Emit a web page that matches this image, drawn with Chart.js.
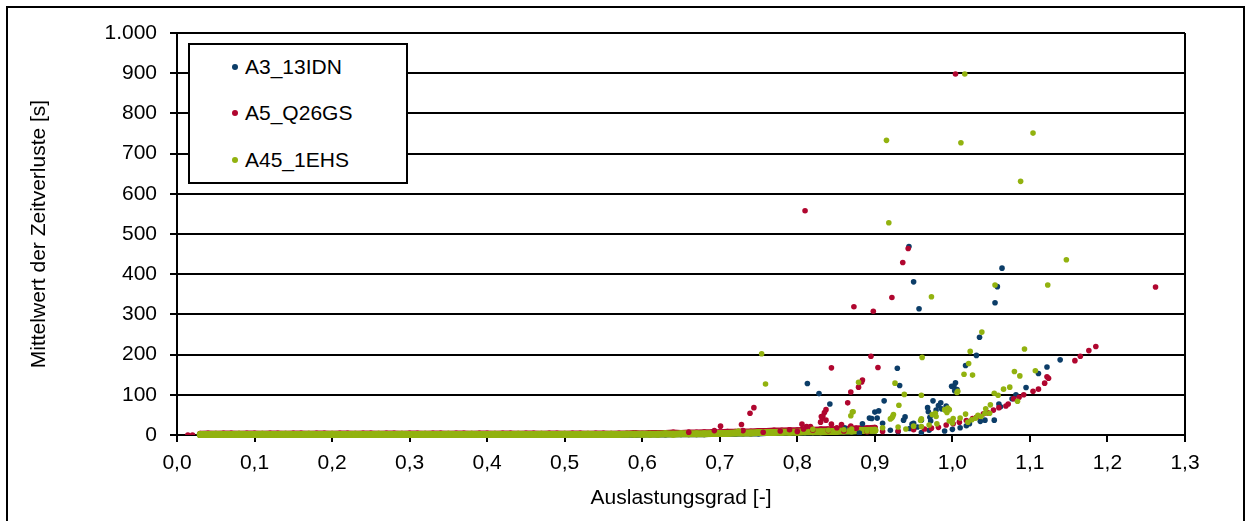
<!DOCTYPE html>
<html>
<head>
<meta charset="utf-8">
<script src="https://cdn.jsdelivr.net/npm/chart.js@4.4.1/dist/chart.umd.min.js"></script>
<style>
  html, body { margin: 0; padding: 0; background: #fff; }
  body { width: 1247px; height: 521px; position: relative; overflow: hidden; }
  #frame {
    position: absolute; left: 6px; top: 6px; width: 1239px; height: 530px;
    border: 2px solid #000; box-sizing: border-box; pointer-events: none;
  }
  #wrap { position: absolute; left: 0; top: 0; width: 1247px; height: 521px; }
  #legend {
    position: absolute; left: 188px; top: 43px; width: 220px; height: 141px;
    border: 2px solid #000; box-sizing: border-box; background: #fff;
    font-family: 'Liberation Sans', Arial, sans-serif; font-size: 21px; color: #000;
  }
  .item { position: absolute; left: 0; height: 24px; line-height: 24px; white-space: nowrap; }
  .dot { position: absolute; left: 42px; top: 9px; width: 6px; height: 6px; border-radius: 50%; }
  .lbl { position: absolute; left: 55px; top: 0; }
</style>
</head>
<body>
<div id="wrap"><canvas id="chart" width="1247" height="521"></canvas></div>
<div id="frame"></div>
<div id="legend"></div>
<script>
// ===== SERIES =====
const SERIES_NAMES = ['A3_13IDN', 'A5_Q26GS', 'A45_1EHS'];
const COLORS = ['#0c3d68', '#b0062f', '#92b20f'];

// dense low-delay strip, shared x positions
const baseX = [
  0.03, 0.04, 0.05, 0.06, 0.07, 0.08, 0.09,
  0.10, 0.11, 0.12, 0.13, 0.14, 0.15, 0.16, 0.17, 0.18, 0.19,
  0.20, 0.21, 0.22, 0.23, 0.24, 0.25, 0.26, 0.27, 0.28, 0.29,
  0.30, 0.31, 0.32, 0.33, 0.34, 0.35, 0.36, 0.37, 0.38, 0.39,
  0.40, 0.41, 0.42, 0.43, 0.44, 0.45, 0.46, 0.47, 0.48, 0.49,
  0.50, 0.51, 0.52, 0.53, 0.54, 0.55, 0.56, 0.57, 0.58, 0.59,
  0.60, 0.61, 0.62, 0.63, 0.64, 0.65, 0.66, 0.67, 0.68, 0.69,
  0.70, 0.71, 0.72, 0.73, 0.74, 0.75, 0.76, 0.77, 0.78, 0.79,
  0.80, 0.81, 0.82, 0.83, 0.84, 0.85, 0.86, 0.87, 0.88, 0.89,
  0.90
];
const a3BaseY = [
  0, 1, 0, 1, 0, 1, 0,
  1, 0, 1, 0, 1, 0, 1, 0, 1, 0,
  1, 0, 1, 0, 1, 0, 1, 0, 1, 0,
  1, 0, 1, 0, 1, 0, 1, 0, 1, 0,
  1, 0, 1, 0, 1, 0, 1, 0, 1, 0,
  1, 0, 1, 0, 1, 0, 1, 0, 1, 0,
  1, 1, 1, 1, 2, 2, 2, 2, 2, 3,
  3, 3, 3, 4, 4, 4, 5, 5, 5, 6,
  6, 6, 7, 7, 8, 8, 9, 9, 10, 10,
  11
];
const a5BaseY = [
  3, 4, 3, 4, 4, 3, 4,
  4, 3, 4, 4, 3, 4, 4, 3, 4, 4,
  3, 4, 4, 3, 4, 4, 3, 4, 4, 3,
  4, 4, 3, 4, 4, 3, 4, 4, 3, 4,
  4, 3, 4, 4, 3, 4, 4, 3, 4, 4,
  3, 4, 4, 3, 4, 4, 3, 4, 4, 5,
  4, 5, 5, 5, 6, 5, 6, 6, 7, 7,
  7, 8, 8, 9, 9, 10, 10, 11, 11, 12,
  12, 13, 13, 14, 14, 15, 15, 16, 16, 17,
  18
];
const a45BaseY = [
  1, 1, 2, 1, 1, 2, 1,
  1, 2, 1, 1, 2, 1, 1, 2, 1, 1,
  2, 1, 1, 2, 1, 1, 2, 1, 1, 2,
  1, 1, 2, 1, 1, 2, 1, 1, 2, 1,
  1, 2, 1, 1, 2, 1, 1, 2, 1, 1,
  2, 1, 1, 2, 1, 1, 2, 1, 2, 2,
  2, 2, 2, 3, 2, 3, 3, 3, 3, 4,
  4, 4, 5, 5, 5, 6, 6, 6, 7, 7,
  7, 8, 8, 8, 9, 9, 10, 10, 11, 11,
  12
];

// scattered points [Auslastungsgrad, Zeitverlust]
const a3Points = [
  [0.944, 469], [1.064, 415], [0.950, 381], [1.058, 369], [1.055, 329], [0.957, 314],
  [1.035, 243], [1.031, 198], [0.929, 166], [1.017, 173], [1.139, 187], [1.122, 169],
  [1.111, 153], [0.813, 128], [1.004, 130], [1.002, 122], [0.999, 121], [1.003, 110],
  [1.006, 113], [0.932, 123], [0.828, 103], [1.095, 118], [1.082, 100], [0.912, 85],
  [0.975, 85], [0.985, 80], [0.982, 73], [0.992, 72], [0.968, 68], [0.969, 58],
  [1.060, 77], [1.077, 90], [1.062, 70], [0.842, 77], [0.900, 57], [0.905, 60],
  [0.903, 42], [0.893, 42], [0.896, 41], [0.884, 28], [0.939, 45], [0.937, 37],
  [0.950, 29], [0.960, 37], [0.971, 44], [0.972, 35], [0.979, 62], [0.986, 65],
  [1.054, 37], [1.042, 37], [1.036, 34], [1.022, 28], [1.018, 23], [0.910, 29],
  [0.945, 16], [0.948, 27], [0.861, 18], [0.970, 12], [0.990, 10], [1.000, 14],
  [1.010, 18], [0.930, 8], [0.960, 6], [0.880, 5], [0.920, 12], [0.955, 20]
];
const a5Points = [
  [1.004, 898], [0.810, 558], [0.943, 464], [0.936, 429], [1.262, 368], [0.922, 342],
  [0.873, 319], [0.898, 308], [0.895, 196], [0.904, 168], [0.844, 167], [1.185, 220],
  [1.176, 210], [1.165, 196], [1.158, 185], [1.124, 141], [1.122, 145], [1.119, 129],
  [1.111, 114], [1.104, 109], [1.092, 100], [1.086, 94], [1.079, 90], [1.072, 77],
  [1.069, 72], [1.060, 68], [1.053, 62], [1.046, 55], [1.040, 53], [1.031, 44],
  [1.026, 41], [1.018, 36], [1.009, 32], [1.001, 28], [0.992, 25], [0.982, 19],
  [0.973, 17], [0.964, 15], [0.884, 137], [0.883, 132], [0.879, 119], [0.869, 107],
  [0.865, 80], [0.837, 63], [0.835, 56], [0.833, 47], [0.832, 42], [0.830, 32],
  [0.837, 37], [0.831, 46], [0.744, 68], [0.739, 54], [0.728, 26], [0.701, 22],
  [0.693, 11], [0.660, 7], [0.806, 27], [0.812, 21], [0.817, 21], [0.808, 15],
  [0.844, 27], [0.857, 26], [0.851, 18], [0.869, 22], [0.876, 17], [0.790, 13],
  [0.778, 10], [0.756, 7], [0.730, 11], [0.950, 13], [0.930, 10], [0.910, 9],
  [0.890, 8], [0.800, 9], [0.820, 12], [0.840, 11], [0.860, 10], [0.014, 0], [0.020, 0]
];
const a45Points = [
  [1.016, 898], [0.915, 733], [1.011, 727], [1.104, 751], [1.088, 631], [0.918, 528],
  [1.147, 436], [1.055, 373], [1.123, 373], [0.973, 344], [1.038, 256], [1.023, 208],
  [1.093, 214], [0.961, 193], [0.754, 202], [0.759, 127], [1.021, 178], [1.015, 151],
  [1.026, 149], [1.107, 160], [1.080, 158], [1.087, 147], [1.084, 84], [1.066, 114],
  [1.074, 119], [1.054, 104], [1.059, 99], [1.049, 75], [1.043, 65], [0.879, 131],
  [0.926, 129], [0.938, 101], [0.960, 99], [0.931, 74], [0.871, 57], [0.869, 48],
  [0.872, 58], [0.924, 51], [0.922, 43], [0.923, 46], [0.920, 40], [0.959, 36],
  [0.990, 63], [0.996, 63], [0.993, 56], [0.991, 62], [0.994, 67], [0.978, 54],
  [0.979, 46], [0.974, 51], [0.960, 40], [0.960, 21], [1.007, 109], [1.006, 106],
  [1.017, 52], [1.010, 42], [1.001, 41], [0.996, 35], [1.033, 49], [1.037, 46],
  [1.042, 54], [1.048, 54], [1.030, 42], [1.025, 38], [0.724, 10], [0.820, 14],
  [0.840, 12], [0.860, 13], [0.870, 15], [0.900, 12], [0.910, 18], [0.930, 20],
  [0.950, 22], [0.970, 25], [0.980, 28], [1.000, 30], [1.020, 32], [0.940, 15], [0.890, 10]
];

// axis settings
const X_MIN = 0, X_MAX = 1.3, X_STEP = 0.1;
const Y_MIN = 0, Y_MAX = 1000, Y_STEP = 100;
const X_TITLE = 'Auslastungsgrad [-]';
const Y_TITLE = 'Mittelwert der Zeitverluste [s]';

const FONT = "'Liberation Sans', Arial, sans-serif";
const FONT_SIZE = 21;
Chart.defaults.font.family = FONT;
Chart.defaults.color = '#000';

const toXY = pairs => pairs.map(p => ({ x: p[0], y: p[1] }));
const baseData = ys => baseX.map((x, i) => ({ x, y: ys[i] }));

function pointSet(label, data, color, radius) {
  return {
    label, data,
    backgroundColor: color, borderColor: color,
    borderWidth: 0, pointRadius: radius, pointHoverRadius: radius
  };
}

// the strip is so dense that the markers merge into a band
function stripSet(label, data, color, width) {
  return {
    label, data, showLine: true, clip: false,
    borderColor: color, backgroundColor: color,
    borderWidth: width, pointRadius: width / 2, pointBorderWidth: 0,
    borderCapStyle: 'round', borderJoinStyle: 'round'
  };
}

// first dataset is painted last, so the green series sits on top
const datasets = [
  pointSet(SERIES_NAMES[2], toXY(a45Points), COLORS[2], 2.8),
  pointSet(SERIES_NAMES[1], toXY(a5Points), COLORS[1], 2.8),
  pointSet(SERIES_NAMES[0], toXY(a3Points), COLORS[0], 2.8),
  stripSet(SERIES_NAMES[2], baseData(a45BaseY), COLORS[2], 7),
  stripSet(SERIES_NAMES[1], baseData(a5BaseY), COLORS[1], 6),
  stripSet(SERIES_NAMES[0], baseData(a3BaseY), COLORS[0], 6)
];

new Chart(document.getElementById('chart'), {
  type: 'scatter',
  data: { datasets },
  options: {
    responsive: false,
    animation: false,
    events: [],
    layout: { padding: { top: 33, right: 62, left: 0, bottom: 0 } },
    plugins: { legend: { display: false }, tooltip: { enabled: false } },
    scales: {
      x: {
        type: 'linear', min: X_MIN, max: X_MAX,
        afterFit: s => { s.height = 86; },
        ticks: {
          stepSize: X_STEP, padding: 9, maxRotation: 0, autoSkip: false,
          font: { size: FONT_SIZE },
          callback: v => v.toFixed(1).replace('.', ',')
        },
        grid: {
          drawOnChartArea: true,
          color: ctx => ctx.index === 13 ? '#000' : 'rgba(0,0,0,0)',
          tickColor: '#000', tickLength: 7, lineWidth: 2
        },
        border: { display: true, color: '#000', width: 2 },
        title: { display: true, text: X_TITLE, font: { size: FONT_SIZE }, padding: { top: 0, bottom: 10 } }
      },
      y: {
        type: 'linear', min: Y_MIN, max: Y_MAX,
        afterFit: s => { s.width = 177; },
        ticks: {
          stepSize: Y_STEP, padding: 13,
          font: { size: FONT_SIZE },
          callback: v => v >= 1000 ? '1.000' : String(v)
        },
        grid: { color: '#000', tickColor: '#000', tickLength: 7, lineWidth: 2 },
        border: { display: true, color: '#000', width: 2 },
        title: { display: true, text: Y_TITLE, font: { size: FONT_SIZE }, padding: { top: 27, bottom: 0 } }
      }
    }
  }
});

// legend box
const legendEl = document.getElementById('legend');
const rowTops = [10, 56, 103];
SERIES_NAMES.forEach((name, i) => {
  const item = document.createElement('div');
  item.className = 'item';
  item.style.top = rowTops[i] + 'px';
  item.innerHTML = `<span class="dot" style="background:${COLORS[i]}"></span><span class="lbl">${name}</span>`;
  legendEl.appendChild(item);
});
</script>
</body>
</html>
